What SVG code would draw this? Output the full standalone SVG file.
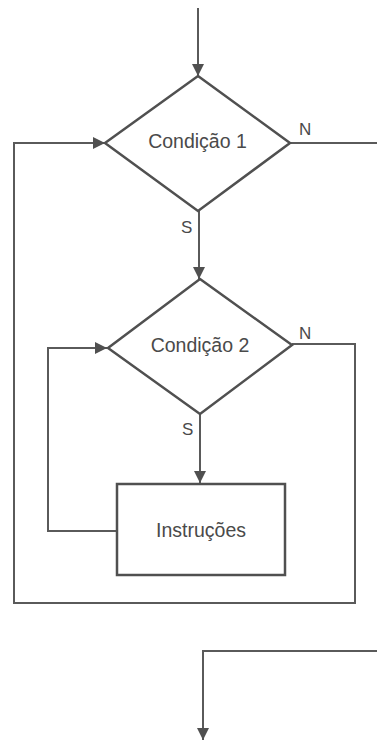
<svg xmlns="http://www.w3.org/2000/svg" width="377" height="742" viewBox="0 0 377 742">
<style>
.shape{fill:none;stroke:#505050;stroke-width:2.5;stroke-linejoin:miter}
.line{fill:none;stroke:#5a5a5a;stroke-width:2}
text{font-family:"Liberation Sans",Arial,sans-serif;font-size:19.5px;fill:#4a4a4a}
.c{text-anchor:middle}
.lbl{font-size:17px}
</style>
<defs>
<marker id="ah" viewBox="0 0 10 10" refX="10" refY="5" markerWidth="12" markerHeight="12" markerUnits="userSpaceOnUse" orient="auto">
<path d="M0,0 L10,5 L0,10 Z" fill="#505050"/>
</marker>
</defs>
<rect width="377" height="742" fill="#ffffff"/>
<g id="connectors">
<path class="line" d="M198,8 V76" marker-end="url(#ah)"/>
<path class="line" d="M290,143 H377"/>
<path class="line" d="M199,211 V279" marker-end="url(#ah)"/>
<path class="line" d="M292,344 H355 V603 H14 V143 H105" marker-end="url(#ah)"/>
<path class="line" d="M200,414 V483" marker-end="url(#ah)"/>
<path class="line" d="M117,531 H48 V348 H107" marker-end="url(#ah)"/>
<path class="line" d="M377,651 H203 V740" marker-end="url(#ah)"/>
</g>
<g id="cond1">
<polygon class="shape" points="198,76 290,143 198,211 105,143"/>
<text class="c" x="197.5" y="148">Condição 1</text>
</g>
<g id="cond2">
<polygon class="shape" points="200,279 292,345 200,414 108,348"/>
<text class="c" x="200" y="352">Condição 2</text>
</g>
<g id="instr">
<rect class="shape" x="117" y="484" width="168" height="91"/>
<text class="c" x="201" y="537">Instruções</text>
</g>
<g id="labels">
<text class="lbl" x="299" y="135">N</text>
<text class="lbl" x="181" y="233">S</text>
<text class="lbl" x="299" y="339">N</text>
<text class="lbl" x="182" y="435">S</text>
</g>
</svg>
